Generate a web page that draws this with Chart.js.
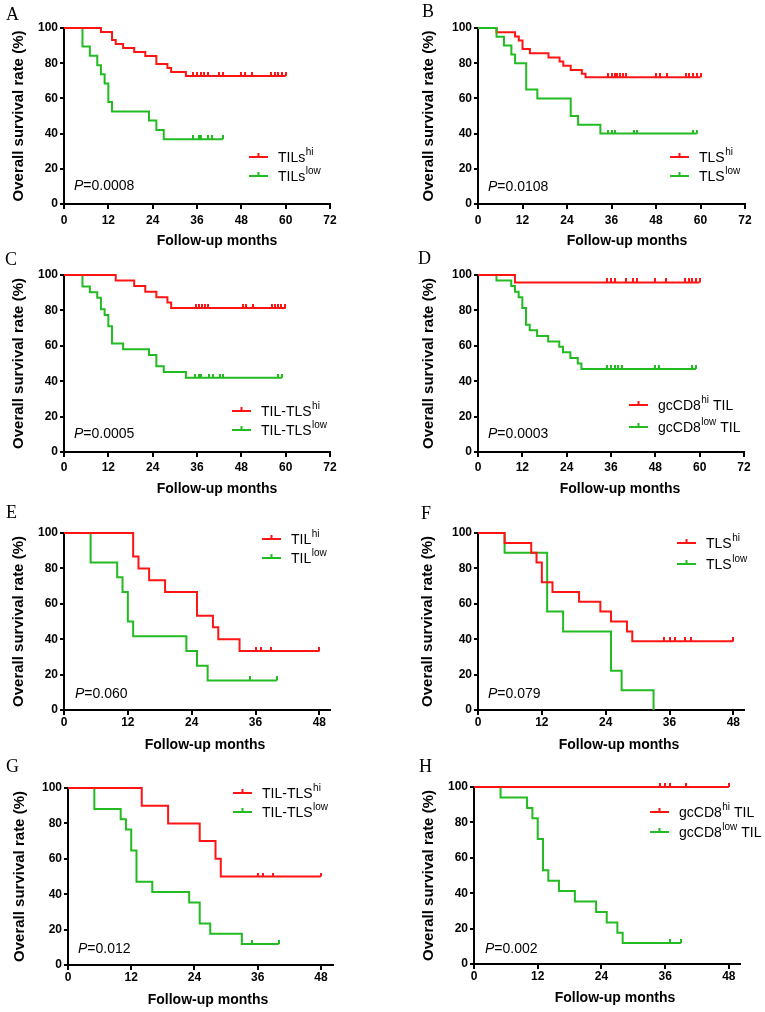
<!DOCTYPE html>
<html>
<head>
<meta charset="utf-8">
<script src="https://cdn.jsdelivr.net/npm/chart.js@4.4.1/dist/chart.umd.min.js"></script>
<style>
body { margin: 0; background: #fff; }
#wrap { position: relative; width: 765px; height: 1012px; overflow: hidden; }
#wrap canvas { position: absolute; }
.lab { position: absolute; font-family: "Liberation Serif", "Times New Roman", serif; font-size: 18px; line-height: 18px; color: #000; }
</style>
</head>
<body>
<div id="wrap"></div>
<script>
// survival curves: event times (months), survival (%), censor times
// A - TILs
var aHiTime = [0, 10, 13, 14, 16, 19, 22, 25, 28, 29, 33, 60];
var aHiSurv = [100, 97.7, 93.2, 90.9, 88.6, 86.4, 84.1, 79.5, 77.3, 75.0, 72.7, 72.7];
var aHiCens = [35, 36, 37, 38, 39, 42, 43, 48, 49, 51, 56, 57, 58, 59, 60];
var aLoTime = [0, 5, 7, 9, 10, 11, 12, 13, 23, 25, 27, 43];
var aLoSurv = [100, 89.5, 84.2, 78.9, 73.7, 68.4, 57.9, 52.6, 47.4, 42.1, 36.8, 36.8];
var aLoCens = [35, 36.5, 37, 39, 40, 43];
// B - TLS
var bHiTime = [0, 5, 10, 11, 12, 14, 19, 22, 23, 25, 28, 29, 60];
var bHiSurv = [100, 97.6, 95.2, 92.9, 88.1, 85.7, 83.3, 81.0, 78.6, 76.2, 74.0, 72.0, 72.0];
var bHiCens = [35, 36, 37, 37.6, 38.4, 39, 40, 48, 49, 51, 56, 57, 58, 59, 60];
var bLoTime = [0, 5, 7, 9, 10, 13, 16, 25, 27, 33, 59];
var bLoSurv = [100, 95, 90, 85, 80, 65, 60, 50, 45, 40, 40];
var bLoCens = [35, 36, 37, 42, 43, 58, 59];
// C - TIL-TLS
var cHiTime = [0, 14, 19, 22, 25, 28, 29, 60];
var cHiSurv = [100, 96.9, 93.8, 90.6, 87.5, 84.4, 81.3, 81.3];
var cHiCens = [35.7, 36.6, 37.3, 38.1, 39, 48.5, 49.2, 51.2, 56.2, 57.1, 58, 58.8, 59.8];
var cLoTime = [0, 5, 7, 9, 10, 11, 12, 13, 16, 23, 25, 27, 33, 59];
var cLoSurv = [100, 93.5, 90.3, 87.1, 80.6, 77.4, 71.0, 61.3, 58.1, 54.8, 48.4, 45.2, 41.9, 41.9];
var cLoCens = [35.4, 36.5, 37.2, 39.3, 40.4, 42.2, 43.1, 58, 59];
// D - gcCD8 TIL
var dHiTime = [0, 10, 60];
var dHiSurv = [100, 95.8, 95.8];
var dHiCens = [35, 36, 37, 40, 42, 43, 48, 51, 56, 57, 58, 59, 60];
var dLoTime = [0, 5, 9, 10, 11, 12, 13, 14, 16, 19, 22, 23, 25, 27, 28, 59];
var dLoSurv = [100, 96.9, 93.8, 90.6, 87.5, 81.3, 71.9, 68.8, 65.6, 62.5, 59.4, 56.3, 53.1, 50.0, 46.9, 46.9];
var dLoCens = [35, 36, 37, 38, 39, 48, 49, 58, 59];
// E - TIL
var eHiTime = [0, 13, 14, 16, 19, 25, 28, 29, 33, 48];
var eHiSurv = [100, 86.7, 80, 73.3, 66.7, 53.3, 46.7, 40, 33.3, 33.3];
var eHiCens = [36, 37, 39, 48];
var eLoTime = [0, 5, 10, 11, 12, 13, 23, 25, 27, 40];
var eLoSurv = [100, 83.3, 75, 66.7, 50, 41.7, 33.3, 25, 16.7, 16.7];
var eLoCens = [35, 40];
// F - TLS
var fHiTime = [0, 5, 10, 11, 12, 14, 19, 23, 25, 28, 29, 48];
var fHiSurv = [100, 94.4, 88.9, 83.3, 72.2, 66.7, 61.1, 55.6, 50, 44.4, 38.9, 38.9];
var fHiCens = [35, 36, 37, 39, 40, 48];
var fLoTime = [0, 5, 13, 16, 25, 27, 33];
var fLoSurv = [100, 88.9, 55.6, 44.4, 22.2, 11.1, 0];
var fLoCens = [];
// G - TIL-TLS
var gHiTime = [0, 14, 19, 25, 28, 29, 48];
var gHiSurv = [100, 90, 80, 70, 60, 50, 50];
var gHiCens = [36, 37, 39, 48];
var gLoTime = [0, 5, 10, 11, 12, 13, 16, 23, 25, 27, 33, 40];
var gLoSurv = [100, 88.2, 82.4, 76.5, 64.7, 47.1, 41.2, 35.3, 23.5, 17.6, 11.8, 11.8];
var gLoCens = [35, 40];
// H - gcCD8 TIL
var hHiTime = [0, 48];
var hHiSurv = [100, 100];
var hHiCens = [35, 36, 37, 40, 48];
var hLoTime = [0, 5, 10, 11, 12, 13, 14, 16, 19, 23, 25, 27, 28, 39];
var hLoSurv = [100, 94.1, 88.2, 82.4, 70.6, 52.9, 47.1, 41.2, 35.3, 29.4, 23.5, 17.6, 11.8, 11.8];
var hLoCens = [37, 39];

var panelLetters = ['A', 'B', 'C', 'D', 'E', 'F', 'G', 'H'];
var groupNames = ['TILs', 'TLS', 'TIL-TLS', 'gcCD8', 'TIL', 'TLS', 'TIL-TLS', 'gcCD8'];
var nameSuffix = ['', '', '', ' TIL', '', '', '', ' TIL'];
var pValues = ['0.0008', '0.0108', '0.0005', '0.0003', '0.060', '0.079', '0.012', '0.002'];
var xTicksLong = [0, 12, 24, 36, 48, 60, 72];
var xTicksShort = [0, 12, 24, 36, 48];
var yTicks = [0, 20, 40, 60, 80, 100];

var RED = '#ff1414';
var GREEN = '#22bb22';
var FONT = 'Arial, "Liberation Sans", Helvetica, sans-serif';

Chart.defaults.font.family = FONT;
Chart.defaults.color = '#000';

// layout of each panel (pixels)
var panels = [
  {x: 0, y: 0, w: 382, h: 250, yW: 64, padR: 52, padT: 28, xH: 46, xMax: 72, ticks: xTicksLong, tp: 4, ytc: 19,
   xtX: 217, xtY: 241, lgX: 249, lgY: [157, 176], pX: 74, pY: 185, greenTop: false, lx: 6, ly: 5,
   hi: [aHiTime, aHiSurv, aHiCens], lo: [aLoTime, aLoSurv, aLoCens]},
  {x: 382, y: 0, w: 383, h: 250, yW: 96, padR: 20, padT: 28, xH: 46, xMax: 72, ticks: xTicksLong, tp: 4, ytc: 47,
   xtX: 245, xtY: 241, lgX: 288, lgY: [157, 176], pX: 106, pY: 186, greenTop: true, lx: 40, ly: 2,
   hi: [bHiTime, bHiSurv, bHiCens], lo: [bLoTime, bLoSurv, bLoCens]},
  {x: 0, y: 250, w: 382, h: 250, yW: 64, padR: 52, padT: 25, xH: 48, xMax: 72, ticks: xTicksLong, tp: 3, ytc: 19,
   xtX: 217, xtY: 239, lgX: 232, lgY: [161, 180], pX: 74, pY: 183, greenTop: false, lx: 5, ly: 0,
   hi: [cHiTime, cHiSurv, cHiCens], lo: [cLoTime, cLoSurv, cLoCens]},
  {x: 382, y: 250, w: 383, h: 250, yW: 96, padR: 21, padT: 25, xH: 48, xMax: 72, ticks: xTicksLong, tp: 3, ytc: 47,
   xtX: 238, xtY: 239, lgX: 247, lgY: [155, 177], pX: 106, pY: 183, greenTop: false, lx: 36, ly: -1,
   hi: [dHiTime, dHiSurv, dHiCens], lo: [dLoTime, dLoSurv, dLoCens]},
  {x: 0, y: 500, w: 382, h: 255, yW: 64, padR: 52, padT: 33, xH: 45, xMax: 50, ticks: xTicksShort, tp: 0, ytc: 19,
   xtX: 205, xtY: 245, lgX: 262, lgY: [39, 58], pX: 75, pY: 193, greenTop: false, lx: 6, ly: 3,
   hi: [eHiTime, eHiSurv, eHiCens], lo: [eLoTime, eLoSurv, eLoCens]},
  {x: 382, y: 500, w: 383, h: 255, yW: 96, padR: 21, padT: 33, xH: 45, xMax: 50, ticks: xTicksShort, tp: 0, ytc: 46,
   xtX: 237, xtY: 245, lgX: 295, lgY: [43, 64], pX: 106, pY: 193, greenTop: false, lx: 39, ly: 4,
   hi: [fHiTime, fHiSurv, fHiCens], lo: [fLoTime, fLoSurv, fLoCens]},
  {x: 0, y: 755, w: 382, h: 257, yW: 68, padR: 49, padT: 33, xH: 47, xMax: 50.3, ticks: xTicksShort, tp: 0, ytc: 20,
   xtX: 208, xtY: 245, lgX: 233, lgY: [38, 57], pX: 78, pY: 193, greenTop: false, lx: 6, ly: 2,
   hi: [gHiTime, gHiSurv, gHiCens], lo: [gLoTime, gLoSurv, gLoCens]},
  {x: 382, y: 755, w: 383, h: 257, yW: 92, padR: 25, padT: 32, xH: 48, xMax: 50.1, ticks: xTicksShort, tp: 0, ytc: 47,
   xtX: 233, xtY: 243, lgX: 268, lgY: [57, 77], pX: 103, pY: 193, greenTop: false, lx: 37, ly: 2,
   hi: [hHiTime, hHiSurv, hHiCens], lo: [hLoTime, hLoSurv, hLoCens]}
];

function survAt(times, surv, t) {
  var s = surv[0];
  for (var i = 0; i < times.length; i++) {
    if (times[i] <= t) s = surv[i];
  }
  return s;
}

// censor mark: short tick pointing up from the curve
function tickImg(color) {
  var c = document.createElement('canvas');
  c.width = 2;
  c.height = 8;
  var g = c.getContext('2d');
  g.fillStyle = color;
  g.fillRect(0, 0, 2, 4);
  return c;
}

function series(d, color, order) {
  var t = d[0], s = d[1], cens = d[2];
  return [
    {
      data: t.map(function(v, i) { return {x: v, y: s[i]}; }),
      showLine: true, stepped: 'before', borderColor: color, borderWidth: 2,
      pointRadius: 0, fill: false, order: order, clip: 6
    },
    {
      data: cens.map(function(v) { return {x: v, y: survAt(t, s, v)}; }),
      showLine: false, pointStyle: tickImg(color), pointRadius: 3, order: 0, clip: 6
    }
  ];
}

function makeExtras(p, i) {
  return {
    id: 'kmExtras' + i,
    afterDraw: function(chart) {
      var ctx = chart.ctx;
      ctx.save();
      // x axis title
      ctx.fillStyle = '#000';
      ctx.font = 'bold 14px ' + FONT;
      ctx.textAlign = 'center';
      ctx.textBaseline = 'middle';
      ctx.fillText('Follow-up months', p.xtX, p.xtY);

      // legend
      var colors = [RED, GREEN];
      var sups = ['hi', 'low'];
      ctx.textAlign = 'left';
      ctx.textBaseline = 'alphabetic';
      for (var k = 0; k < 2; k++) {
        var ly = p.lgY[k];
        ctx.strokeStyle = colors[k];
        ctx.lineWidth = 2;
        ctx.beginPath();
        ctx.moveTo(p.lgX, ly);
        ctx.lineTo(p.lgX + 19, ly);
        ctx.moveTo(p.lgX + 9.5, ly);
        ctx.lineTo(p.lgX + 9.5, ly - 4);
        ctx.stroke();
        var tx = p.lgX + 29;
        var base = ly + 5;
        ctx.fillStyle = '#000';
        ctx.font = '14px ' + FONT;
        ctx.fillText(groupNames[i], tx, base);
        tx += ctx.measureText(groupNames[i]).width + 0.5;
        ctx.font = '10px ' + FONT;
        ctx.fillText(sups[k], tx, base - 7);
        tx += ctx.measureText(sups[k]).width;
        if (nameSuffix[i]) {
          ctx.font = '14px ' + FONT;
          ctx.fillText(nameSuffix[i], tx, base);
        }
      }

      // p value
      ctx.font = 'italic 14px ' + FONT;
      ctx.fillText('P', p.pX, p.pY + 5);
      var pw = ctx.measureText('P').width;
      ctx.font = '14px ' + FONT;
      ctx.fillText('=' + pValues[i], p.pX + pw, p.pY + 5);
      ctx.restore();
    }
  };
}

var wrap = document.getElementById('wrap');

panels.forEach(function(p, i) {
  var cv = document.createElement('canvas');
  cv.width = p.w;
  cv.height = p.h;
  cv.style.left = p.x + 'px';
  cv.style.top = p.y + 'px';
  cv.style.width = p.w + 'px';
  cv.style.height = p.h + 'px';
  wrap.appendChild(cv);

  var lab = document.createElement('div');
  lab.className = 'lab';
  lab.textContent = panelLetters[i];
  lab.style.left = (p.x + p.lx) + 'px';
  lab.style.top = (p.y + p.ly) + 'px';
  wrap.appendChild(lab);

  var red = series(p.hi, RED, p.greenTop ? 2 : 1);
  var green = series(p.lo, GREEN, p.greenTop ? 1 : 2);
  var tickList = p.ticks;

  new Chart(cv.getContext('2d'), {
    type: 'scatter',
    data: { datasets: red.concat(green) },
    options: {
      responsive: false,
      animation: false,
      devicePixelRatio: 1,
      events: [],
      layout: { padding: { left: 0, right: p.padR, top: p.padT, bottom: 0 } },
      plugins: { legend: { display: false }, tooltip: { enabled: false } },
      scales: {
        x: {
          type: 'linear',
          min: 0,
          max: p.xMax,
          afterBuildTicks: function(scale) {
            scale.ticks = tickList.map(function(v) { return {value: v}; });
          },
          afterFit: function(scale) { scale.height = p.xH; },
          ticks: { font: { size: 12, weight: 'bold' }, color: '#000', padding: p.tp, maxRotation: 0 },
          grid: { drawOnChartArea: false, drawTicks: true, tickLength: 5, color: '#000', lineWidth: 2 },
          border: { display: true, color: '#000', width: 2 }
        },
        y: {
          min: 0,
          max: 100,
          afterBuildTicks: function(scale) {
            scale.ticks = yTicks.map(function(v) { return {value: v}; });
          },
          afterFit: function(scale) { scale.width = p.yW; },
          ticks: { font: { size: 12, weight: 'bold' }, color: '#000', padding: 2 },
          grid: { drawOnChartArea: false, drawTicks: true, tickLength: 4, color: '#000', lineWidth: 2 },
          border: { display: true, color: '#000', width: 2 },
          title: {
            display: true,
            text: 'Overall survival rate (%)',
            font: { size: 15, weight: 'bold' },
            color: '#000',
            padding: { top: p.ytc - 9, bottom: 0 }
          }
        }
      }
    },
    plugins: [makeExtras(p, i)]
  });
});
</script>
</body>
</html>
